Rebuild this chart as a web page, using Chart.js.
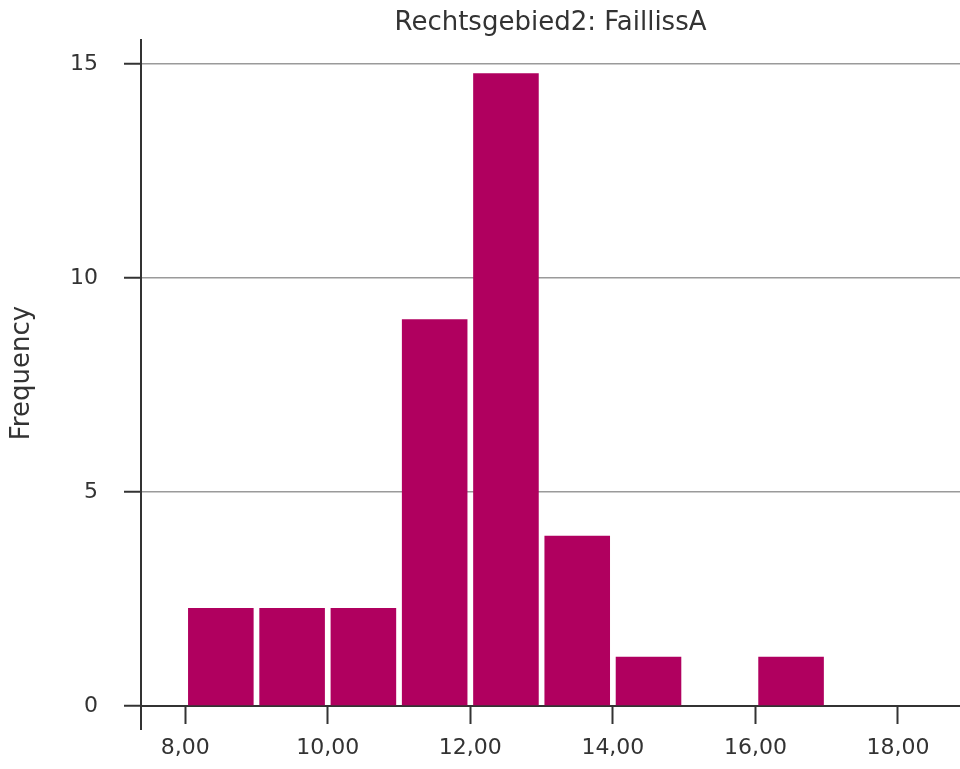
<!DOCTYPE html>
<html>
<head>
<meta charset="utf-8">
<script src="https://cdn.jsdelivr.net/npm/chart.js@4/dist/chart.umd.min.js"></script>
<style>
  html, body { margin: 0; padding: 0; background: #fff; }
  #wrap { width: 960px; height: 769px; }
</style>
</head>
<body>
<div id="wrap"><canvas id="c" width="960" height="769"></canvas></div>
<script>
const chartTitle = "Rechtsgebied2: FaillissA";
const yAxisTitle = "Frequency";
const binStarts = [8, 9, 10, 11, 12, 13, 14, 15, 16, 17];
const binWidth = 1;
const frequencies = [2.29, 2.29, 2.29, 9.04, 14.79, 3.98, 1.15, 0, 1.15, 0];
const xTickValues = [8, 10, 12, 14, 16, 18];
const yTickValues = [0, 5, 10, 15];
const xRange = [7.38, 18.87];
const yRange = [0, 15.56];

const barColor = '#b0005f';
const textColor = '#333333';
const axisColor = '#333333';
const fontFamily = "'DejaVu Sans', sans-serif";

const points = binStarts.map((s, i) => ({ x: s + binWidth / 2, y: frequencies[i] }));

// extends the y axis line a little below the x axis, as in the original
const axisExtension = {
  id: 'axisExtension',
  afterDraw(chart) {
    const { ctx, chartArea } = chart;
    const len = chart.scales.x.options.grid.tickLength + 6;
    ctx.save();
    ctx.strokeStyle = axisColor;
    ctx.lineWidth = 2;
    ctx.beginPath();
    ctx.moveTo(chartArea.left, chartArea.bottom);
    ctx.lineTo(chartArea.left, chartArea.bottom + len);
    ctx.stroke();
    ctx.restore();
  }
};

new Chart(document.getElementById('c'), {
  type: 'bar',
  data: {
    datasets: [{
      data: points,
      backgroundColor: barColor,
      borderWidth: 0,
      barPercentage: 0.92,
      categoryPercentage: 1.0
    }]
  },
  options: {
    responsive: false,
    animation: false,
    devicePixelRatio: 1,
    layout: { padding: { left: 0, right: 0, top: 0, bottom: 0 } },
    plugins: {
      legend: { display: false },
      tooltip: { enabled: false },
      title: {
        display: true,
        text: chartTitle,
        fullSize: false,
        color: textColor,
        font: { family: fontFamily, size: 26, weight: 'normal' },
        padding: { top: 8, bottom: 1 }
      }
    },
    scales: {
      x: {
        type: 'linear',
        offset: false,
        min: xRange[0],
        max: xRange[1],
        afterBuildTicks: (scale) => {
          scale.ticks = xTickValues.map(v => ({ value: v }));
        },
        afterFit: (scale) => { scale.height = 63; },
        ticks: {
          color: textColor,
          font: { family: fontFamily, size: 22 },
          padding: 11,
          maxRotation: 0,
          autoSkip: false,
          callback: (v) => v.toFixed(2).replace('.', ',')
        },
        grid: {
          display: true,
          offset: false,
          drawOnChartArea: false,
          drawTicks: true,
          tickLength: 18,
          tickColor: axisColor,
          tickWidth: 2
        },
        border: { display: true, color: axisColor, width: 2 }
      },
      y: {
        type: 'linear',
        min: yRange[0],
        max: yRange[1],
        afterBuildTicks: (scale) => {
          scale.ticks = yTickValues.map(v => ({ value: v }));
        },
        afterFit: (scale) => { scale.width = 141; },
        ticks: {
          color: textColor,
          font: { family: fontFamily, size: 22 },
          padding: 26,
          autoSkip: false
        },
        grid: {
          display: true,
          color: '#9a9a9a',
          lineWidth: 1.5,
          drawTicks: true,
          tickLength: 17,
          tickColor: axisColor,
          tickWidth: 2
        },
        border: { display: true, color: axisColor, width: 2 },
        title: {
          display: true,
          text: yAxisTitle,
          color: textColor,
          font: { family: fontFamily, size: 26 },
          padding: { top: 7, bottom: 0 }
        }
      }
    }
  },
  plugins: [axisExtension]
});
</script>
</body>
</html>
